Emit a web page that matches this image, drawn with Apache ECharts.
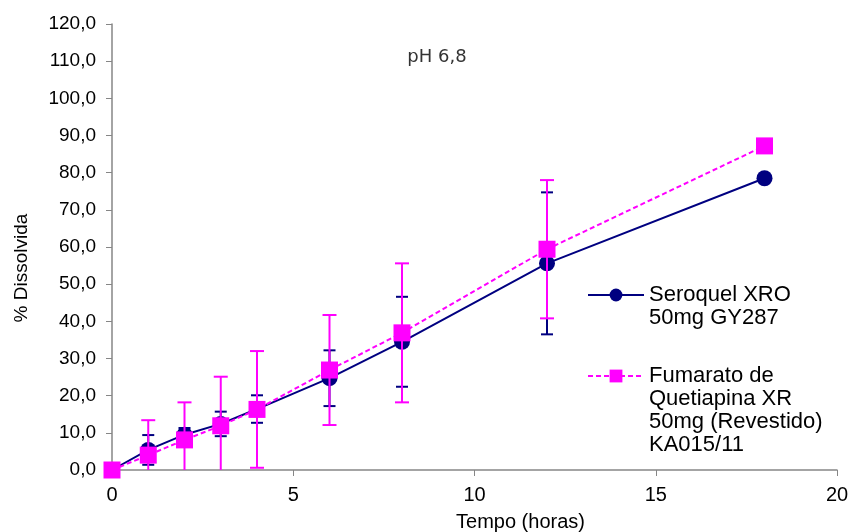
<!DOCTYPE html>
<html>
<head>
<meta charset="utf-8">
<script src="https://cdn.jsdelivr.net/npm/echarts@6/dist/echarts.min.js"></script>
<style>html,body{margin:0;padding:0;background:#fff}#c{width:852px;height:532px}</style>
</head>
<body>
<div id="c"></div>
<script>
const times = [0, 1, 2, 3, 4, 6, 8, 12, 18];
const seroquel = [0, 5.4, 9.5, 12.4, 16.4, 24.7, 34.5, 55.6, 78.5];
const seroquelSD = [0, 4.0, 1.8, 3.3, 3.7, 7.5, 12.1, 19.1, 0];
const fumarato = [0, 4.0, 8.1, 11.9, 16.3, 26.9, 36.9, 59.4, 87.2];
const fumaratoSD = [0, 9.4, 10.1, 13.2, 15.7, 14.8, 18.7, 18.6, 0];
const seroquelName = 'Seroquel XRO\n50mg GY287';
const fumaratoName = 'Fumarato de\nQuetiapina XR\n50mg (Revestido)\nKA015/11';

const FONT = 'Liberation Sans, Arial, sans-serif';
const NAVY = '#000080';
const MAGENTA = '#FF00FF';

function errData(means, sds) {
  return times.map((t, i) => {
    const lo = means[i] - sds[i];
    return [t, Math.max(0, lo), means[i] + sds[i], lo < 0 ? 1 : 0];
  }).filter((d, i) => sds[i] > 0);
}

function errRender(color, capHalf) {
  return function (params, api) {
    const x = api.value(0);
    const hi = api.coord([x, api.value(2)]);
    const lo = api.coord([x, api.value(1)]);
    const clipped = api.value(3) === 1;
    const style = { stroke: color, lineWidth: 2 };
    const children = [
      { type: 'line', shape: { x1: hi[0], y1: hi[1], x2: lo[0], y2: lo[1] }, style: style },
      { type: 'line', shape: { x1: hi[0] - capHalf, y1: hi[1], x2: hi[0] + capHalf, y2: hi[1] }, style: style }
    ];
    if (!clipped) {
      children.push({ type: 'line', shape: { x1: lo[0] - capHalf, y1: lo[1], x2: lo[0] + capHalf, y2: lo[1] }, style: style });
    }
    return { type: 'group', children: children };
  };
}

// Legend text: pad with empty lines above so the first line sits beside the symbol
function firstLineAligned(name) {
  const n = name.split('\n').length;
  return '\n'.repeat(n - 1) + name;
}

const chart = echarts.init(document.getElementById('c'), null, { renderer: 'canvas' });
chart.setOption({
  animation: false,
  backgroundColor: '#fff',
  textStyle: { fontFamily: FONT },
  title: {
    text: 'pH 6,8',
    left: 437, top: 48, textAlign: 'center', padding: 0,
    textStyle: { fontFamily: 'DejaVu Sans, sans-serif', fontSize: 18, fontWeight: 'normal', color: '#333' }
  },
  grid: { left: 112, right: 15, top: 24, bottom: 62, containLabel: false, outerBoundsMode: 'none' },
  xAxis: {
    type: 'value', min: 0, max: 20, interval: 5,
    name: 'Tempo (horas)', nameLocation: 'middle', nameGap: 42,
    nameTextStyle: { fontFamily: FONT, fontSize: 20, color: '#000', padding: [0, 0, 0, 92] },
    axisLine: { show: true, onZero: false, lineStyle: { color: '#868686', width: 1.5 } },
    axisTick: { show: true, inside: false, length: 6, lineStyle: { color: '#868686' } },
    axisLabel: { fontFamily: FONT, fontSize: 20, color: '#000', margin: 15 },
    splitLine: { show: false }
  },
  yAxis: {
    type: 'value', min: 0, max: 120, interval: 10,
    name: '% Dissolvida', nameLocation: 'middle', nameGap: 81, nameRotate: 90,
    nameTextStyle: { fontFamily: FONT, fontSize: 19, color: '#000', padding: [0, 42, 0, 0] },
    axisLine: { show: true, lineStyle: { color: '#868686', width: 1.5 } },
    axisTick: { show: true, inside: false, length: 6, lineStyle: { color: '#868686' } },
    axisLabel: {
      fontFamily: FONT, fontSize: 19, color: '#000', margin: 16,
      formatter: v => v.toFixed(1).replace('.', ',')
    },
    splitLine: { show: false }
  },
  legend: [
    {
      data: [{ name: seroquelName }],
      left: 582, top: 255.5, orient: 'vertical',
      itemWidth: 56, itemHeight: 16,
      formatter: firstLineAligned,
      textStyle: { fontFamily: FONT, fontSize: 22, color: '#000', lineHeight: 23 }
    },
    {
      data: [{ name: fumaratoName }],
      left: 582, top: 290.5, orient: 'vertical',
      itemWidth: 56, itemHeight: 16,
      formatter: firstLineAligned,
      textStyle: { fontFamily: FONT, fontSize: 22, color: '#000', lineHeight: 23 }
    }
  ],
  series: [
    {
      type: 'custom', name: 'errSer', silent: true, z: 2,
      renderItem: errRender(NAVY, 6),
      data: errData(seroquel, seroquelSD),
      encode: { x: 0, y: [1, 2] }
    },
    {
      type: 'line', name: seroquelName, z: 3,
      data: times.map((t, i) => [t, seroquel[i]]),
      symbol: 'circle', symbolSize: 16,
      itemStyle: { color: NAVY },
      lineStyle: { color: NAVY, width: 2 }
    },
    {
      type: 'custom', name: 'errFum', silent: true, z: 4,
      renderItem: errRender(MAGENTA, 7),
      data: errData(fumarato, fumaratoSD),
      encode: { x: 0, y: [1, 2] }
    },
    {
      type: 'line', name: fumaratoName, z: 5,
      data: times.map((t, i) => [t, fumarato[i]]),
      symbol: 'rect', symbolSize: 17,
      itemStyle: { color: MAGENTA },
      lineStyle: { color: MAGENTA, width: 2, type: [5, 3] }
    }
  ]
});
</script>
</body>
</html>
